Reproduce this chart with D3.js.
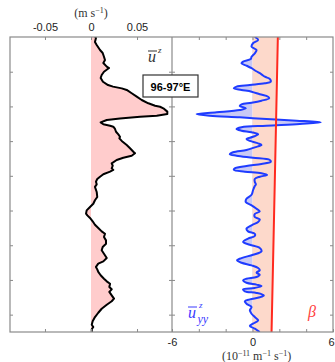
<!DOCTYPE html>
<html>
<head>
<meta charset="utf-8">
<script src="https://cdn.jsdelivr.net/npm/d3@7"></script>
<style>
  html, body { margin: 0; padding: 0; background: #fff; }
  svg { display: block; }
</style>
</head>
<body>
<svg id="chart" width="335" height="362"></svg>
<script>
// zonal wind profile (left) and its curvature vs beta (right), 96-97E
let uLat = [34.00, 34.06, 34.29, 34.46, 34.75, 34.92, 35.14, 35.33, 35.50, 35.71, 35.79, 36.00, 36.19, 36.36, 36.58, 36.77, 36.86, 36.96, 37.05, 37.24, 37.44, 37.63, 37.82, 37.96, 38.02, 38.11, 38.30, 38.44, 38.54, 38.59, 38.69, 38.78, 38.92, 39.03, 39.11, 39.17, 39.30, 39.46, 39.61, 39.75, 39.84, 39.99, 40.22, 40.41, 40.61, 40.70, 40.84, 40.96, 41.09, 41.28, 41.42, 41.57, 41.66, 41.76, 41.91, 42.05, 42.18, 42.34, 42.49, 42.64, 42.93, 43.22, 43.41, 43.61, 43.80, 43.99, 44.18, 44.28, 44.43, 44.62, 44.82, 45.01, 45.20, 45.34, 45.53, 45.72, 45.91, 46.10, 46.29, 46.49, 46.74, 46.93, 47.06, 47.25, 47.39, 47.54, 47.73, 47.93, 48.08, 48.22, 48.41, 48.54, 48.69, 48.89, 49.08, 49.23, 49.43, 49.66, 49.89, 50.14, 50.38, 50.58, 50.71, 50.84, 51.00];
let uVal = [0.0043, 0.0054, 0.0043, 0.0062, 0.0098, 0.0127, 0.0141, 0.0152, 0.0134, 0.0171, 0.0196, 0.0141, 0.0116, 0.0105, 0.0130, 0.0185, 0.0239, 0.0334, 0.0388, 0.0442, 0.0497, 0.0551, 0.0623, 0.0696, 0.0750, 0.0786, 0.0829, 0.0829, 0.0714, 0.0533, 0.0315, 0.0171, 0.0105, 0.0134, 0.0207, 0.0242, 0.0261, 0.0272, 0.0297, 0.0315, 0.0308, 0.0334, 0.0388, 0.0424, 0.0460, 0.0478, 0.0442, 0.0351, 0.0279, 0.0225, 0.0236, 0.0225, 0.0242, 0.0207, 0.0134, 0.0098, 0.0068, 0.0054, 0.0062, 0.0043, 0.0062, 0.0068, 0.0043, 0.0025, -0.0011, -0.0047, -0.0054, -0.0040, -0.0011, 0.0018, 0.0043, 0.0079, 0.0116, 0.0152, 0.0141, 0.0163, 0.0163, 0.0127, 0.0116, 0.0141, 0.0171, 0.0134, 0.0079, 0.0054, 0.0068, 0.0079, 0.0105, 0.0141, 0.0171, 0.0207, 0.0199, 0.0225, 0.0199, 0.0225, 0.0250, 0.0225, 0.0171, 0.0116, 0.0079, 0.0043, 0.0018, 0.0008, 0.0025, 0.0008, 0.0008];

let uyyLat = [34.00, 34.17, 34.36, 34.56, 34.75, 34.94, 35.14, 35.27, 35.42, 35.52, 35.65, 35.80, 35.96, 36.15, 36.29, 36.42, 36.58, 36.67, 36.77, 36.86, 36.96, 37.05, 37.15, 37.30, 37.44, 37.53, 37.67, 37.79, 37.88, 37.98, 38.11, 38.21, 38.34, 38.44, 38.54, 38.63, 38.73, 38.82, 38.92, 39.01, 39.11, 39.20, 39.30, 39.40, 39.49, 39.61, 39.75, 39.88, 39.99, 40.13, 40.22, 40.36, 40.51, 40.64, 40.76, 40.84, 40.96, 41.09, 41.19, 41.32, 41.43, 41.57, 41.66, 41.76, 41.85, 41.95, 42.05, 42.18, 42.34, 42.49, 42.59, 42.83, 43.09, 43.32, 43.51, 43.70, 43.90, 44.05, 44.20, 44.37, 44.51, 44.66, 44.85, 45.05, 45.20, 45.34, 45.47, 45.62, 45.81, 45.97, 46.16, 46.35, 46.55, 46.74, 46.87, 47.01, 47.16, 47.31, 47.44, 47.58, 47.70, 47.83, 47.93, 48.02, 48.16, 48.27, 48.35, 48.46, 48.54, 48.66, 48.75, 48.89, 49.00, 49.12, 49.23, 49.37, 49.56, 49.75, 49.95, 50.14, 50.33, 50.52, 50.65, 50.81, 51.00];
let uyyVal = [0.17, 0.42, 0.04, -0.07, 0.30, 0.17, -0.07, -0.13, -0.70, -0.82, -0.45, -0.07, 0.25, 0.67, 0.92, 1.29, 1.36, 0.92, -0.20, -1.19, -1.39, -0.82, -0.07, 0.54, 1.16, 1.24, 0.67, -0.07, -0.82, -0.95, -0.50, -0.95, -2.68, -4.17, -3.18, -0.95, 1.04, 3.28, 5.09, 3.52, 1.04, -0.82, -1.19, -0.82, -0.07, 0.42, 0.04, -0.45, -0.20, 0.42, 0.67, 0.17, -0.45, -1.45, -1.69, -1.19, 0.04, 1.29, 1.36, 0.67, -0.45, -1.32, -1.39, -0.57, 0.67, 1.09, 0.54, 0.17, 0.17, 0.25, 0.17, 0.04, -0.07, -0.45, -0.50, -0.07, 0.30, 0.54, 0.17, 0.17, 0.54, 0.42, -0.07, -0.45, -0.33, 0.17, 0.17, -0.33, -0.70, -0.20, 0.54, 0.67, 0.04, -0.82, -1.15, -0.82, -0.07, 0.42, 0.54, 0.30, 0.54, 0.30, -0.45, -0.70, -0.45, 0.30, 0.67, 0.17, -0.70, -0.57, 0.30, 0.84, 0.54, -0.20, -0.57, -0.45, -0.07, -0.20, -0.07, 0.17, 0.42, 0.04, -0.20, 0.17, 0.54];

let betaLat = [34, 42.4, 51];
let betaVal = [1.89, 1.66, 1.42];

let leftTicks = [-0.05, 0, 0.05];
let rightTicks = [-6, -4, -2, 0, 2, 4, 6];
let rightLabels = [-6, 0, 6];
let latTicks = [36, 38, 40, 42, 44, 46, 48, 50];

function drawProfiles(width, height, box) {
  let svg = d3.select("#chart");
  let frameColor = "#8a8a8a";
  let sans = "'Liberation Sans', Arial, sans-serif";
  let serif = "'Liberation Serif', 'DejaVu Serif', serif";

  let yScale = d3.scaleLinear().domain([34, 51]).range([box.top, box.bottom]);
  let xLeft = d3.scaleLinear().domain([-0.088, 0.088]).range([box.left, box.mid]);
  let xRight = d3.scaleLinear().domain([-6, 6]).range([box.mid, box.right]);

  let defs = svg.append("defs");
  defs.append("clipPath").attr("id", "clipL").append("rect")
    .attr("x", box.left).attr("y", box.top)
    .attr("width", box.mid - box.left).attr("height", box.bottom - box.top);
  defs.append("clipPath").attr("id", "clipR").append("rect")
    .attr("x", box.mid).attr("y", box.top)
    .attr("width", box.right - box.mid).attr("height", box.bottom - box.top);

  /* ========== LEFT PANEL ========== */

  let uData = d3.zip(uLat, uVal);
  let gL = svg.append("g").attr("clip-path", "url(#clipL)");

  gL.append("path")
    .datum(uData)
    .attr("fill", "#ffcccc")
    .attr("d", d3.area()
      .y(d => yScale(d[0]))
      .x0(xLeft(0))
      .x1(d => xLeft(d[1])));

  gL.append("path")
    .datum(uData)
    .attr("fill", "none")
    .attr("stroke", "#000")
    .attr("stroke-width", 2)
    .attr("stroke-linejoin", "round")
    .attr("d", d3.line()
      .x(d => xLeft(d[1]))
      .y(d => yScale(d[0])));

  /* ========== RIGHT PANEL ========== */

  let uyyData = d3.zip(uyyLat, uyyVal);
  let betaData = d3.zip(betaLat, betaVal);
  let gR = svg.append("g").attr("clip-path", "url(#clipR)");

  gR.append("path")
    .datum(uyyData)
    .attr("fill", "#c9c9f5")
    .attr("d", d3.area()
      .curve(d3.curveCatmullRom)
      .y(d => yScale(d[0]))
      .x0(xRight(0))
      .x1(d => xRight(d[1])));

  gR.append("path")
    .datum(betaData)
    .attr("fill", "#fdd9cb")
    .attr("d", d3.area()
      .y(d => yScale(d[0]))
      .x0(xRight(0))
      .x1(d => xRight(d[1])));

  gR.append("path")
    .datum(uyyData)
    .attr("fill", "none")
    .attr("stroke", "#1f3cff")
    .attr("stroke-width", 2)
    .attr("d", d3.line()
      .curve(d3.curveCatmullRom)
      .x(d => xRight(d[1]))
      .y(d => yScale(d[0])));

  gR.append("path")
    .datum(betaData)
    .attr("fill", "none")
    .attr("stroke", "#ff2a1f")
    .attr("stroke-width", 2)
    .attr("d", d3.line()
      .x(d => xRight(d[1]))
      .y(d => yScale(d[0])));

  /* ========== AXES ========== */

  function styleAxis(sel) {
    sel.select(".domain").remove();
    sel.selectAll(".tick line").attr("stroke", frameColor);
    sel.selectAll(".tick text")
      .attr("fill", "#222")
      .style("font-family", sans)
      .style("font-size", "11px");
  }

  let fmt = d => d === 0 ? "0" : d.toFixed(2);

  svg.append("g")
    .attr("transform", "translate(0," + box.top + ")")
    .call(d3.axisTop(xLeft).tickValues(leftTicks).tickSize(-3).tickPadding(6).tickFormat(fmt))
    .call(styleAxis);
  svg.append("g")
    .attr("transform", "translate(0," + box.bottom + ")")
    .call(d3.axisBottom(xLeft).tickValues(leftTicks).tickSize(-3).tickFormat(""))
    .call(styleAxis);

  svg.append("g")
    .attr("transform", "translate(0," + box.top + ")")
    .call(d3.axisTop(xRight).tickValues(rightTicks.slice(1, -1)).tickSize(-3).tickFormat(""))
    .call(styleAxis);
  let bottomR = svg.append("g")
    .attr("transform", "translate(0," + box.bottom + ")")
    .call(d3.axisBottom(xRight).tickValues(rightTicks).tickSize(-3).tickPadding(6)
      .tickFormat(d => rightLabels.includes(d) ? String(d) : ""))
    .call(styleAxis);
  // last label sits on the page edge, keep it inside
  bottomR.selectAll(".tick text").filter(d => d === 6).attr("dx", -2);

  [[box.left, d3.axisLeft], [box.mid, d3.axisRight], [box.mid, d3.axisLeft], [box.right, d3.axisRight]]
    .forEach(([x, ax]) => {
      svg.append("g")
        .attr("transform", "translate(" + x + ",0)")
        .call(ax(yScale).tickValues(latTicks).tickSize(-3).tickFormat(""))
        .call(styleAxis);
    });

  // frames
  svg.append("rect")
    .attr("x", box.left).attr("y", box.top)
    .attr("width", box.right - box.left).attr("height", box.bottom - box.top)
    .attr("fill", "none").attr("stroke", frameColor).attr("stroke-width", 1.2);
  svg.append("line")
    .attr("x1", box.mid).attr("x2", box.mid)
    .attr("y1", box.top).attr("y2", box.bottom)
    .attr("stroke", frameColor).attr("stroke-width", 1.2);

  /* ========== TEXT ========== */

  function unitLabel(x, y, parts) {
    let t = svg.append("text")
      .attr("x", x).attr("y", y)
      .attr("text-anchor", "middle")
      .style("font-family", serif).style("font-size", "12px").attr("fill", "#333");
    parts.forEach(([s, sup]) => {
      t.append("tspan")
        .attr("baseline-shift", sup ? "4" : null)
        .style("font-size", sup ? "8px" : null)
        .text(s);
    });
  }

  unitLabel(xLeft(0), 17, [["(m s", false], ["\u22121", true], [")", false]]);
  unitLabel(xRight(0.3), 360, [["(10", false], ["\u221211", true], [" m", false], ["\u22121", true], [" s", false], ["\u22121", true], [")", false]]);

  // region box
  svg.append("rect")
    .attr("x", 143).attr("y", 75).attr("width", 55).attr("height", 22)
    .attr("fill", "#fff").attr("stroke", "#333").attr("stroke-width", 1.2);
  svg.append("text")
    .attr("x", 170.5).attr("y", 90.5)
    .attr("text-anchor", "middle")
    .style("font-family", sans).style("font-size", "11px").style("font-weight", "bold")
    .attr("fill", "#000")
    .text("96-97\u00B0E");

  // u-bar^z
  svg.append("text")
    .attr("x", 148).attr("y", 62)
    .style("font-family", serif).style("font-size", "16px").style("font-style", "italic")
    .attr("fill", "#333").text("u");
  svg.append("line")
    .attr("x1", 148).attr("x2", 157).attr("y1", 51).attr("y2", 51)
    .attr("stroke", "#333").attr("stroke-width", 1);
  svg.append("text")
    .attr("x", 158).attr("y", 53)
    .style("font-family", serif).style("font-size", "9px").style("font-style", "italic")
    .attr("fill", "#333").text("z");

  // u-bar^z_yy
  let blue = "#3a3aff";
  svg.append("text")
    .attr("x", 188).attr("y", 318)
    .style("font-family", serif).style("font-size", "16px").style("font-style", "italic")
    .attr("fill", blue).text("u");
  svg.append("line")
    .attr("x1", 188).attr("x2", 197).attr("y1", 307).attr("y2", 307)
    .attr("stroke", blue).attr("stroke-width", 1);
  svg.append("text")
    .attr("x", 199).attr("y", 308)
    .style("font-family", serif).style("font-size", "9px").style("font-style", "italic")
    .attr("fill", blue).text("z");
  svg.append("text")
    .attr("x", 197.5).attr("y", 323)
    .style("font-family", serif).style("font-size", "12px").style("font-style", "italic")
    .attr("fill", blue).text("yy");

  // beta
  svg.append("text")
    .attr("x", 308).attr("y", 317)
    .style("font-family", serif).style("font-size", "16px").style("font-style", "italic")
    .attr("fill", "#ff4040").text("\u03B2");
}

drawProfiles(335, 362, { left: 10, mid: 172, right: 333, top: 37, bottom: 332 });
</script>
</body>
</html>
